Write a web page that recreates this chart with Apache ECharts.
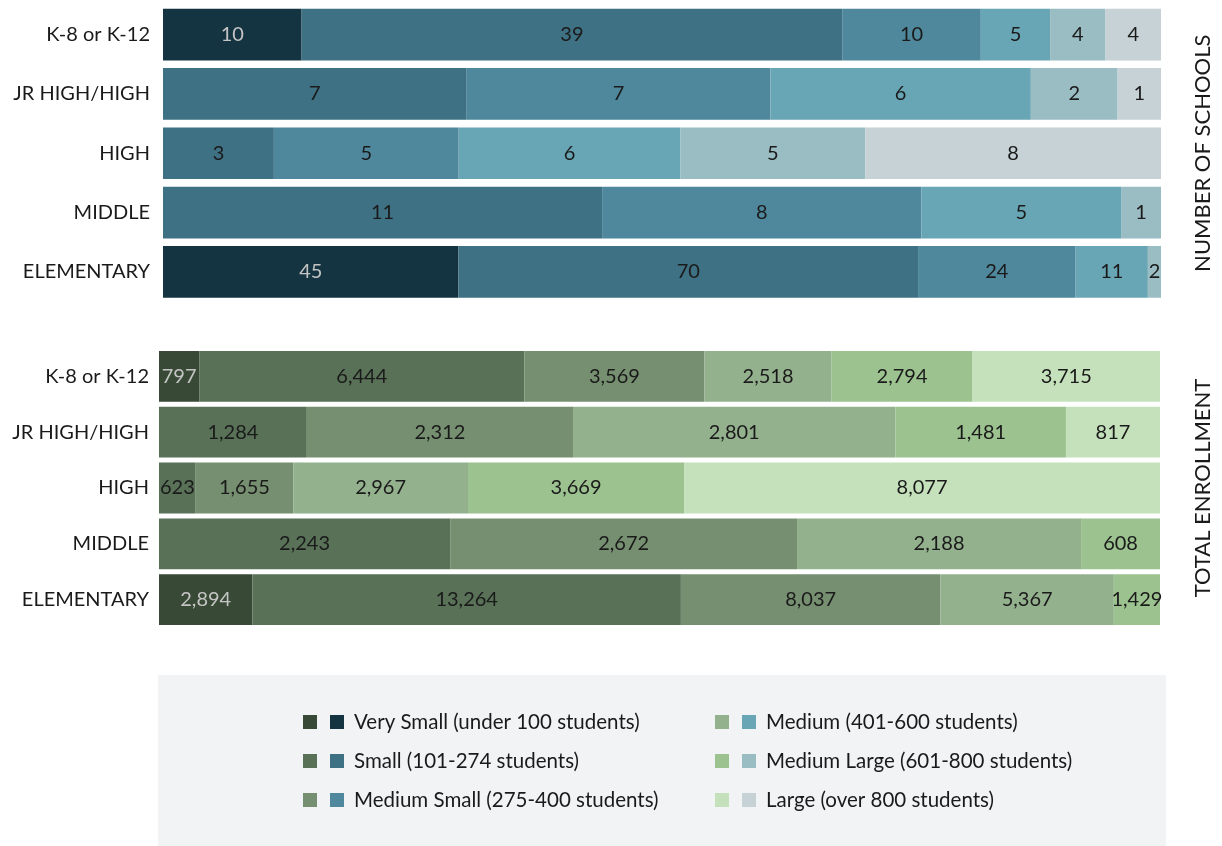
<!DOCTYPE html>
<html>
<head>
<meta charset="utf-8">
<script src="https://cdn.jsdelivr.net/npm/echarts@6/dist/echarts.min.js"></script>
<style>
  html, body { margin: 0; padding: 0; background: #fff; }
  #chart { width: 1222px; height: 846px; }
</style>
</head>
<body>
<div id="chart"></div>
<script>
// categories, top to bottom
const categories = ['K-8 or K-12', 'JR HIGH/HIGH', 'HIGH', 'MIDDLE', 'ELEMENTARY']
const sizeClasses = [
  'Very Small (under 100 students)',
  'Small (101-274 students)',
  'Medium Small (275-400 students)',
  'Medium (401-600 students)',
  'Medium Large (601-800 students)',
  'Large (over 800 students)'
]

// number of schools per size class
const schoolsVerySmall = [10, 0, 0, 0, 45]
const schoolsSmall = [39, 7, 3, 11, 70]
const schoolsMediumSmall = [10, 7, 5, 8, 24]
const schoolsMedium = [5, 6, 6, 5, 11]
const schoolsMediumLarge = [4, 2, 5, 1, 2]
const schoolsLarge = [4, 1, 8, 0, 0]

// total enrollment per size class
const enrollVerySmall = [797, 0, 0, 0, 2894]
const enrollSmall = [6444, 1284, 623, 2243, 13264]
const enrollMediumSmall = [3569, 2312, 1655, 2672, 8037]
const enrollMedium = [2518, 2801, 2967, 2188, 5367]
const enrollMediumLarge = [2794, 1481, 3669, 608, 1429]
const enrollLarge = [3715, 817, 8077, 0, 0]

const schools = [schoolsVerySmall, schoolsSmall, schoolsMediumSmall, schoolsMedium, schoolsMediumLarge, schoolsLarge]
const enrollment = [enrollVerySmall, enrollSmall, enrollMediumSmall, enrollMedium, enrollMediumLarge, enrollLarge]

const blues = ['#143442', '#3f7184', '#4f889c', '#68a5b5', '#9abcc3', '#c6d2d5']
const greens = ['#384a36', '#587157', '#768f70', '#94b18e', '#9bc28f', '#c5e1bb']

const FONT = 'Lato'
const DARK = '#1a1a1a'

// each row is drawn as 100%, labels keep the raw counts
function shares(groups) {
  const totals = categories.map((c, i) => groups.reduce((s, g) => s + g[i], 0))
  return groups.map(g => g.map((v, i) => ({ value: v ? v / totals[i] * 100 : null, raw: v })))
}

function makeSeries(groups, colors, axis, prefix) {
  return shares(groups).map((data, k) => ({
    name: prefix + sizeClasses[k],
    type: 'bar',
    stack: prefix || 'schools',
    xAxisIndex: axis,
    yAxisIndex: axis * 2,
    barCategoryGap: axis ? '9%' : '12.8%',
    itemStyle: { color: colors[k] },
    label: {
      show: true,
      position: 'inside',
      fontFamily: FONT,
      fontSize: 20,
      color: k === 0 ? '#c4c4c4' : DARK,
      formatter: p => p.data.raw ? p.data.raw.toLocaleString('en-US') : ''
    },
    data
  }))
}

// one legend entry shows both swatches: green (enrollment) and blue (schools)
function legendIcon(k) {
  return {
    name: sizeClasses[k],
    itemStyle: {
      color: {
        type: 'linear', x: 0, y: 0, x2: 1, y2: 0,
        colorStops: [
          { offset: 0, color: greens[k] },
          { offset: 0.5, color: greens[k] },
          { offset: 0.5, color: blues[k] },
          { offset: 1, color: blues[k] }
        ]
      }
    }
  }
}

const legendBase = {
  orient: 'vertical',
  top: 711,
  padding: 0,
  itemWidth: 41,
  itemHeight: 14,
  itemGap: 17,
  selectedMode: false,
  icon: 'path://M0,0h14v14h-14z M27,0h14v14h-14z',
  textStyle: { fontFamily: FONT, fontSize: 20.5, color: DARK, lineHeight: 22, padding: [0, 0, 0, 5] }
}

function catAxis(grid, margin, name, gap) {
  return [{
    type: 'category',
    gridIndex: grid,
    inverse: true,
    data: categories,
    axisLine: { show: false },
    axisTick: { show: false },
    axisLabel: { fontFamily: FONT, fontSize: 20, color: DARK, margin }
  }, {
    type: 'category',
    gridIndex: grid,
    position: 'right',
    inverse: true,
    data: categories,
    axisLine: { show: false },
    axisTick: { show: false },
    axisLabel: { show: false },
    name,
    nameLocation: 'middle',
    nameRotate: 90,
    nameGap: gap,
    nameTextStyle: { fontFamily: FONT, fontSize: 22, color: DARK }
  }]
}

const chart = echarts.init(document.getElementById('chart'))
chart.setOption({
  animation: false,
  graphic: [{
    type: 'rect',
    left: 158,
    top: 675,
    shape: { width: 1008, height: 171 },
    style: { fill: '#f2f3f5' },
    z: -10
  }],
  grid: [
    { left: 163, right: 59, top: 5, height: 296.5 },
    { left: 159, right: 62, top: 348.5, height: 279 }
  ],
  xAxis: [
    { type: 'value', gridIndex: 0, min: 0, max: 100, show: false },
    { type: 'value', gridIndex: 1, min: 0, max: 100, show: false }
  ],
  yAxis: [
    ...catAxis(0, 13, 'NUMBER OF SCHOOLS', 31),
    ...catAxis(1, 10, 'TOTAL ENROLLMENT', 32)
  ],
  legend: [
    { ...legendBase, left: 303, data: [0, 1, 2].map(legendIcon) },
    { ...legendBase, left: 715, data: [3, 4, 5].map(legendIcon) }
  ],
  series: [
    ...makeSeries(schools, blues, 0, ''),
    ...makeSeries(enrollment, greens, 1, 'Enrollment ')
  ]
})
</script>
</body>
</html>
